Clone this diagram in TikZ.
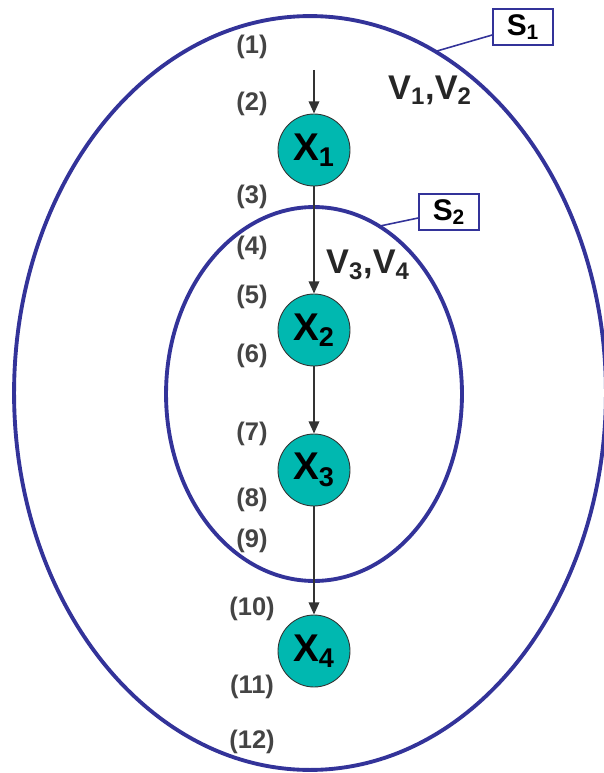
\documentclass[tikz,border=0pt]{standalone}
\usepackage{fontspec}
\setmainfont{Liberation Sans}
\usetikzlibrary{arrows.meta}

\definecolor{rahmen}{HTML}{333399}
\definecolor{knoten}{HTML}{00B8B0}
\definecolor{pfeil}{HTML}{333333}
\definecolor{marke}{HTML}{444444}

\tikzset{
	zustand/.style={circle, draw=pfeil, line width=0.5pt, fill=knoten, minimum size=1.44cm, inner sep=0pt, font=\fontsize{22}{22}\selectfont\bfseries},
	fluss/.style={-{Triangle[length=7pt,width=6pt]}, pfeil, line width=1.1pt},
	menge/.style={rahmen, line width=2.2pt},
	etikett/.style={draw=rahmen, line width=0.9pt, fill=white, minimum width=1.2cm, minimum height=0.72cm, inner sep=0pt, font=\fontsize{17}{17}\selectfont\bfseries},
	punkt/.style={marke, font=\fontsize{14.5}{15}\selectfont\bfseries},
	var/.style={black!85, font=\fontsize{19.5}{20}\selectfont\bfseries}
}

\begin{document}
\begin{tikzpicture}[x=0.02cm, y=-0.02cm]
	
	% feste Bildgroesse
	\useasboundingbox (0,0) rectangle (603,773);
	
	% Mengen S1 und S2 als Ellipsen
	\draw[menge] (310,393) ellipse [x radius=5.92cm, y radius=7.54cm];
	\draw[menge] (314,394) ellipse [x radius=2.96cm, y radius=3.74cm];
	
	% Beschriftungskaesten mit Verbindungslinie
	\node[etikett] (s1) at (523,27) {S\textsubscript{1}};
	\node[etikett] (s2) at (449,212) {S\textsubscript{2}};
	\coordinate (s1rand) at (437,51);
	\coordinate (s2rand) at (380,226);
	\draw[rahmen, line width=0.9pt] (s1.west |- 0,35) -- (s1rand);
	\draw[rahmen, line width=0.9pt] (s2.west |- 0,218) -- (s2rand);
	
	% Zustaende X1 .. X4
	\node[zustand] (x1) at (314,150) {X\textsubscript{1}};
	\node[zustand] (x2) at (314,330) {X\textsubscript{2}};
	\node[zustand] (x3) at (314,470) {X\textsubscript{3}};
	\node[zustand] (x4) at (314,651) {X\textsubscript{4}};
	
	% Pfeile
	\coordinate (start) at (314,70);
	\draw[fluss] (start) -- (x1);
	\draw[fluss] (x1) -- (x2);
	\draw[fluss] (x2) -- (x3);
	\draw[fluss] (x3) -- (x4);
	
	% Variablen
	\node[var] (v12) at (430,90) {V\textsubscript{1},V\textsubscript{2}};
	\node[var] (v34) at (368,265) {V\textsubscript{3},V\textsubscript{4}};
	
	% Programmpunkte (1) .. (12)
	\foreach \nr/\y in {1/47, 2/104, 3/197, 4/248, 5/297, 6/356, 7/434, 8/500, 9/541, 10/609, 11/687, 12/742}
		\node[punkt] (p\nr) at (252,\y) {(\nr)};
	
\end{tikzpicture}
\end{document}
